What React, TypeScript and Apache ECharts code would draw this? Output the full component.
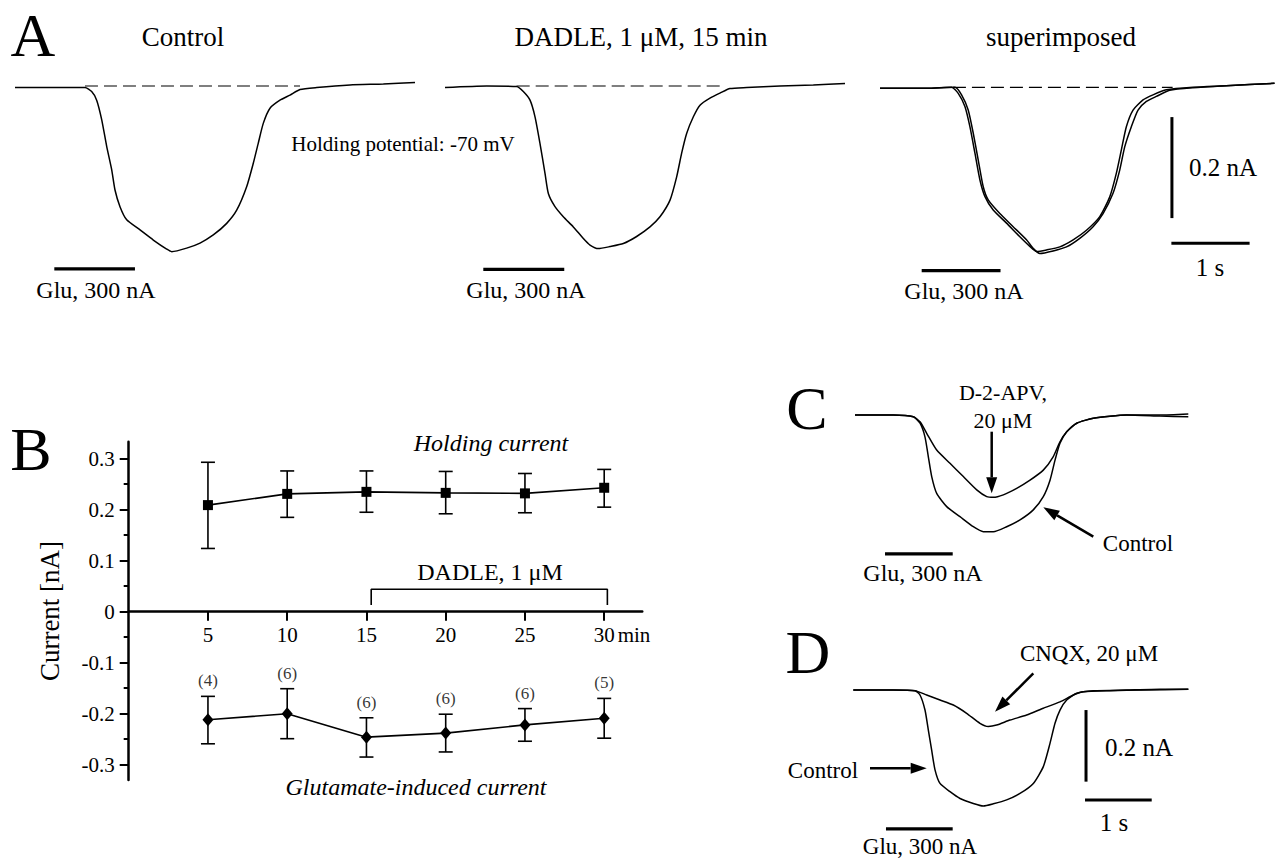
import React, { useEffect, useRef } from "react";
import * as echarts from "echarts";

// ---------- Panel B data ----------
const timeMin = [5, 10, 15, 20, 25, 30];
const holdingMean = [0.209, 0.231, 0.235, 0.233, 0.232, 0.243];
const holdingUpper = [0.293, 0.276, 0.276, 0.275, 0.271, 0.279];
const holdingLower = [0.124, 0.185, 0.195, 0.192, 0.194, 0.205];
const gluMean = [-0.212, -0.2, -0.246, -0.238, -0.222, -0.209];
const gluUpper = [-0.166, -0.151, -0.208, -0.201, -0.19, -0.17];
const gluLower = [-0.259, -0.249, -0.285, -0.275, -0.254, -0.248];
const nCells = ["(4)", "(6)", "(6)", "(6)", "(6)", "(5)"];
const yTicks = [-0.3, -0.2, -0.1, 0, 0.1, 0.2, 0.3];
const yMinorTicks = [-0.25, -0.15, -0.05, 0.05, 0.15, 0.25];
const xTicks = [5, 10, 15, 20, 25, 30];
const dadleStartMin = 15.3;
const dadleEndMin = 30.2;
const dadleBracketTop = 0.044;
const dadleBracketFoot = 0.013;

// ---------- Panel A traces: [time (s), current (nA)] ----------
const traceAControl: [number, number][] = [
  [0, -0.003], [0.535, -0.003], [0.897, -0.003], [0.983, -0.011], [1.047, -0.028],
  [1.112, -0.067], [1.176, -0.12], [1.24, -0.166], [1.282, -0.206], [1.346, -0.239],
  [1.432, -0.265], [1.603, -0.285], [1.773, -0.305], [1.945, -0.323], [2.009, -0.328],
  [2.201, -0.321], [2.372, -0.311], [2.542, -0.295], [2.714, -0.272], [2.842, -0.246],
  [2.971, -0.199], [3.055, -0.153], [3.119, -0.113], [3.183, -0.074], [3.269, -0.044],
  [3.397, -0.028], [3.526, -0.018], [3.654, -0.007], [3.868, -0.003], [4.295, 0.002],
  [4.722, 0.004], [5.128, 0.007],
];
const traceADadle: [number, number][] = [
  [0, -0.003], [0.535, 0], [0.919, -0.001], [1.004, -0.011], [1.09, -0.028],
  [1.154, -0.061], [1.218, -0.114], [1.282, -0.173], [1.325, -0.213], [1.41, -0.239],
  [1.517, -0.259], [1.645, -0.279], [1.774, -0.302], [1.859, -0.315], [1.966, -0.322],
  [2.115, -0.318], [2.286, -0.312], [2.457, -0.298], [2.628, -0.279], [2.756, -0.259],
  [2.885, -0.226], [2.97, -0.18], [3.034, -0.133], [3.098, -0.094], [3.184, -0.061],
  [3.269, -0.038], [3.397, -0.024], [3.526, -0.014], [3.654, -0.005], [3.868, -0.003],
  [4.295, 0], [4.722, 0.002], [5.128, 0.005],
];
const traceASuperA: [number, number][] = [
  [0, -0.002], [0.598, -0.002], [0.919, 0], [1.004, -0.012], [1.09, -0.038],
  [1.154, -0.078], [1.218, -0.13], [1.282, -0.183], [1.346, -0.216], [1.453, -0.243],
  [1.624, -0.269], [1.795, -0.296], [1.923, -0.315], [2.009, -0.325], [2.137, -0.322],
  [2.308, -0.316], [2.479, -0.302], [2.65, -0.283], [2.821, -0.256], [2.949, -0.217],
  [3.034, -0.17], [3.098, -0.124], [3.162, -0.078], [3.248, -0.045], [3.376, -0.025],
  [3.504, -0.015], [3.675, -0.005], [4.017, 0], [4.444, 0.003], [5.064, 0.008],
];
const traceASuperB: [number, number][] = [
  [0, -0.002], [0.598, -0.002], [0.962, 0], [1.047, -0.015], [1.132, -0.045],
  [1.197, -0.091], [1.261, -0.144], [1.325, -0.197], [1.389, -0.223], [1.538, -0.25],
  [1.709, -0.276], [1.88, -0.302], [1.966, -0.319], [2.051, -0.329], [2.222, -0.324],
  [2.393, -0.316], [2.564, -0.299], [2.735, -0.276], [2.863, -0.25], [2.991, -0.21],
  [3.077, -0.164], [3.141, -0.118], [3.226, -0.078], [3.312, -0.045], [3.419, -0.028],
  [3.547, -0.018], [3.718, -0.006], [4.017, -0.001], [4.444, 0.003], [5.064, 0.008],
];
// baseline (dashed) spans [start s, end s]
const baseA1 = [0.897, 3.654];
const baseA2 = [0.919, 3.564];
const baseA3 = [0.936, 3.756];
// glutamate application bars [start s, end s, level nA]
const gluA1 = [0.504, 1.538, -0.362];
const gluA2 = [0.491, 1.529, -0.363];
const gluA3 = [0.535, 1.547, -0.363];
// scale bars A: vertical [t, I1, I2], horizontal [t1, t2, I]
const scaleAVert = [3.747, -0.059, -0.259];
const scaleAHorz = [3.74, 4.744, -0.309];

// ---------- Panel C traces ----------
const traceCApv: [number, number][] = [
  [0, 0], [0.575, 0], [0.875, -0.005], [0.975, -0.019], [1.075, -0.051], [1.225, -0.098],
  [1.424, -0.135], [1.624, -0.172], [1.825, -0.209], [1.975, -0.228], [2.074, -0.23],
  [2.224, -0.223], [2.424, -0.205], [2.624, -0.182], [2.823, -0.154], [2.973, -0.116],
  [3.073, -0.075], [3.174, -0.047], [3.324, -0.023], [3.573, -0.009], [4.073, 0],
  [4.573, 0], [4.997, 0.003],
];
const traceCControl: [number, number][] = [
  [0, 0], [0.575, 0], [0.875, -0.005], [0.975, -0.023], [1.049, -0.061], [1.099, -0.116],
  [1.15, -0.172], [1.225, -0.219], [1.375, -0.256], [1.574, -0.284], [1.774, -0.312],
  [1.924, -0.326], [2.074, -0.326], [2.274, -0.312], [2.474, -0.293], [2.673, -0.265],
  [2.823, -0.228], [2.924, -0.182], [2.999, -0.126], [3.073, -0.079], [3.174, -0.047],
  [3.324, -0.023], [3.573, -0.009], [4.073, 0], [4.573, -0.003], [4.997, -0.005],
];
const gluC = [0.45, 1.465, -0.388];

// ---------- Panel D traces ----------
const traceDControl: [number, number][] = [
  [0, 0], [0.6, 0], [0.925, -0.002], [1.0, -0.014], [1.075, -0.056], [1.125, -0.112],
  [1.175, -0.168], [1.225, -0.223], [1.3, -0.261], [1.45, -0.284], [1.6, -0.303],
  [1.799, -0.317], [1.949, -0.324], [2.099, -0.318], [2.299, -0.307], [2.499, -0.289],
  [2.699, -0.261], [2.849, -0.214], [2.949, -0.149], [3.024, -0.093], [3.099, -0.056],
  [3.199, -0.028], [3.349, -0.009], [3.598, -0.002], [4.098, 0], [4.598, 0.002], [5.023, 0.002],
];
const traceDCnqx: [number, number][] = [
  [0, 0], [0.6, 0], [0.925, -0.002], [1.1, -0.014], [1.3, -0.028], [1.5, -0.042],
  [1.699, -0.065], [1.899, -0.093], [2.024, -0.102], [2.149, -0.098], [2.349, -0.084],
  [2.599, -0.07], [2.849, -0.051], [3.099, -0.033], [3.299, -0.014], [3.449, -0.005],
  [3.848, -0.002], [4.348, 0], [5.023, 0.002],
];
const gluD = [0.49, 1.49, -0.388];
const scaleDVert = [3.489, -0.056, -0.256];
const scaleDHorz = [3.474, 4.474, -0.307];

// ---------- layout ----------
const FONT = "Liberation Serif, Times New Roman, Times, serif";
const B_LEFT = 128.7;
const B_ZERO_Y = 611.7;
const B_PX_PER_TENTH = 510; // px per 1 nA / 10 -> 51 px per 0.1 nA
const B_PX_PER_MIN = 15.85;
const B_XMAX = 32.4;
const B_YMAX = 0.333;
const B_YMIN = -0.33;

type TraceBox = { left: number; baseY: number; pxS: number; pxA: number; tMax: number };
const traceBoxes: TraceBox[] = [
  { left: 15, baseY: 86, pxS: 78, pxA: 505, tMax: 5.13 },
  { left: 445, baseY: 86, pxS: 78, pxA: 505, tMax: 5.13 },
  { left: 880, baseY: 87.3, pxS: 78, pxA: 505, tMax: 5.07 },
  { left: 855, baseY: 415, pxS: 66.7, pxA: 358, tMax: 5.0 },
  { left: 853.3, baseY: 690, pxS: 66.7, pxA: 358, tMax: 5.03 },
];
const T_YMAX = 0.1;
const T_YMIN = -0.45;

function arrow(x1: number, y1: number, x2: number, y2: number) {
  const dx = x2 - x1;
  const dy = y2 - y1;
  const len = Math.sqrt(dx * dx + dy * dy);
  const ux = dx / len;
  const uy = dy / len;
  const hl = 16;
  const hw = 5.5;
  const bx = x2 - ux * hl;
  const by = y2 - uy * hl;
  return [
    { type: "line", shape: { x1, y1, x2: bx, y2: by }, style: { stroke: "#000", lineWidth: 2.5 } },
    {
      type: "polygon",
      shape: { points: [[x2, y2], [bx - uy * hw, by + ux * hw], [bx + uy * hw, by - ux * hw]] },
      style: { fill: "#000" },
    },
  ];
}

function txt(text: string, x: number, y: number, size: number, extra: any = {}) {
  return {
    type: "text",
    x,
    y,
    rotation: extra.rotation || 0,
    style: {
      text,
      fill: "#000",
      fontSize: size,
      fontFamily: FONT,
      fontStyle: extra.italic ? "italic" : "normal",
      align: "center",
      verticalAlign: "middle",
    },
  };
}

function buildOption() {
  const grids: any[] = [];
  const xAxes: any[] = [];
  const yAxes: any[] = [];
  const series: any[] = [];

  // Panel B grid (index 0)
  grids.push({
    left: B_LEFT,
    top: B_ZERO_Y - B_YMAX * B_PX_PER_TENTH,
    width: B_XMAX * B_PX_PER_MIN,
    height: (B_YMAX - B_YMIN) * B_PX_PER_TENTH,
  });
  xAxes.push({
    gridIndex: 0,
    type: "value",
    position: "bottom",
    min: 0,
    max: B_XMAX,
    offset: B_YMIN * B_PX_PER_TENTH,
    axisLine: { show: true, onZero: false, lineStyle: { color: "#000", width: 2.5 } },
    axisTick: { show: true, customValues: xTicks, length: 9, lineStyle: { color: "#000", width: 2 } },
    axisLabel: {
      show: true,
      customValues: xTicks,
      margin: 13,
      color: "#000",
      fontSize: 21,
      fontFamily: FONT,
    },
    splitLine: { show: false },
  });
  yAxes.push({
    gridIndex: 0,
    type: "value",
    min: B_YMIN,
    max: B_YMAX,
    axisLine: { show: true, lineStyle: { color: "#000", width: 2.5 } },
    axisTick: { show: true, customValues: yTicks, length: 9, lineStyle: { color: "#000", width: 2 } },
    axisLabel: {
      show: true,
      customValues: yTicks,
      margin: 14,
      color: "#000",
      fontSize: 21,
      fontFamily: FONT,
      formatter: (v: number) => (Math.abs(v) < 1e-9 ? "0" : v.toFixed(1)),
    },
    splitLine: { show: false },
  });
  yAxes.push({
    gridIndex: 0,
    type: "value",
    min: B_YMIN,
    max: B_YMAX,
    position: "left",
    axisLine: { show: false },
    axisTick: { show: true, customValues: yMinorTicks, length: 5, lineStyle: { color: "#000", width: 2 } },
    axisLabel: { show: false },
    splitLine: { show: false },
  });

  // trace grids 1..5 -> xAxis 1..5, yAxis 2..6
  traceBoxes.forEach((b, i) => {
    grids.push({
      left: b.left,
      top: b.baseY - T_YMAX * b.pxA,
      width: b.tMax * b.pxS,
      height: (T_YMAX - T_YMIN) * b.pxA,
    });
    xAxes.push({ gridIndex: i + 1, type: "value", min: 0, max: b.tMax, show: false });
    yAxes.push({ gridIndex: i + 1, type: "value", min: T_YMIN, max: T_YMAX, show: false });
  });

  const lineS = (gi: number, data: any[], style: any = {}, extra: any = {}) => ({
    type: "line",
    xAxisIndex: gi,
    yAxisIndex: gi === 0 ? 0 : gi + 1,
    data,
    showSymbol: false,
    symbol: "none",
    silent: true,
    clip: false,
    lineStyle: { color: "#000", width: 1.5, ...style },
    z: 3,
    ...extra,
  });

  // Panel B: error bars
  const errBars = (lo: number[], hi: number[]) => ({
    type: "custom",
    xAxisIndex: 0,
    yAxisIndex: 0,
    silent: true,
    clip: false,
    z: 2,
    data: timeMin.map((t, i) => [t, lo[i], hi[i]]),
    encode: { x: 0, y: [1, 2] },
    renderItem: (_p: any, api: any) => {
      const x = api.value(0);
      const a = api.coord([x, api.value(1)]);
      const b = api.coord([x, api.value(2)]);
      const h = 7;
      const st = { stroke: "#000", lineWidth: 1.6 };
      return {
        type: "group",
        children: [
          { type: "line", shape: { x1: a[0], y1: a[1], x2: b[0], y2: b[1] }, style: st },
          { type: "line", shape: { x1: a[0] - h, y1: a[1], x2: a[0] + h, y2: a[1] }, style: st },
          { type: "line", shape: { x1: b[0] - h, y1: b[1], x2: b[0] + h, y2: b[1] }, style: st },
        ],
      };
    },
  });
  series.push(errBars(holdingLower, holdingUpper));
  series.push(errBars(gluLower, gluUpper));
  series.push({
    type: "line",
    xAxisIndex: 0,
    yAxisIndex: 0,
    data: timeMin.map((t, i) => [t, holdingMean[i]]),
    symbol: "rect",
    symbolSize: 10,
    itemStyle: { color: "#000" },
    lineStyle: { color: "#000", width: 1.6 },
    silent: true,
    z: 4,
  });
  series.push({
    type: "line",
    xAxisIndex: 0,
    yAxisIndex: 0,
    data: timeMin.map((t, i) => [t, gluMean[i]]),
    symbol: "diamond",
    symbolSize: [11, 13],
    itemStyle: { color: "#000" },
    lineStyle: { color: "#000", width: 1.6 },
    silent: true,
    z: 4,
  });
  series.push({
    type: "scatter",
    xAxisIndex: 0,
    yAxisIndex: 0,
    data: timeMin.map((t, i) => [t, gluUpper[i]]),
    symbolSize: 0,
    silent: true,
    label: {
      show: true,
      position: "top",
      distance: 7,
      color: "#000",
      fontSize: 17,
      fontFamily: FONT,
      formatter: (p: any) => nCells[p.dataIndex],
    },
  });
  // DADLE bracket
  series.push(
    lineS(
      0,
      [
        [dadleStartMin, dadleBracketFoot],
        [dadleStartMin, dadleBracketTop],
        [dadleEndMin, dadleBracketTop],
        [dadleEndMin, dadleBracketFoot],
      ],
      { width: 1.6 }
    )
  );

  // Panel A traces
  series.push(lineS(1, traceAControl, {}, { smooth: 0.2 }));
  series.push(lineS(2, traceADadle, {}, { smooth: 0.2 }));
  series.push(lineS(3, traceASuperA, {}, { smooth: 0.2 }));
  series.push(lineS(3, traceASuperB, {}, { smooth: 0.2 }));
  [baseA1, baseA2, baseA3].forEach((b, i) =>
    series.push(lineS(i + 1, [[b[0], 0], [b[1], 0]], { width: 1.2, type: [13, 6] }))
  );
  [gluA1, gluA2, gluA3].forEach((g, i) =>
    series.push(lineS(i + 1, [[g[0], g[2]], [g[1], g[2]]], { width: 3.2 }))
  );
  series.push(lineS(3, [[scaleAVert[0], scaleAVert[1]], [scaleAVert[0], scaleAVert[2]]], { width: 3 }));
  series.push(lineS(3, [[scaleAHorz[0], scaleAHorz[2]], [scaleAHorz[1], scaleAHorz[2]]], { width: 3 }));

  // Panel C
  series.push(lineS(4, traceCApv, {}, { smooth: 0.2 }));
  series.push(lineS(4, traceCControl, {}, { smooth: 0.2 }));
  series.push(lineS(4, [[gluC[0], gluC[2]], [gluC[1], gluC[2]]], { width: 3.2 }));

  // Panel D
  series.push(lineS(5, traceDControl, {}, { smooth: 0.2 }));
  series.push(lineS(5, traceDCnqx, {}, { smooth: 0.2 }));
  series.push(lineS(5, [[gluD[0], gluD[2]], [gluD[1], gluD[2]]], { width: 3.2 }));
  series.push(lineS(5, [[scaleDVert[0], scaleDVert[1]], [scaleDVert[0], scaleDVert[2]]], { width: 3 }));
  series.push(lineS(5, [[scaleDHorz[0], scaleDHorz[2]], [scaleDHorz[1], scaleDHorz[2]]], { width: 3 }));

  const graphics: any[] = [
    // Panel letters
    txt("A", 33, 35, 62),
    txt("B", 31, 449, 62),
    txt("C", 807, 408, 62),
    txt("D", 808, 652, 62),
    // Panel A texts
    txt("Control", 183, 37, 27),
    txt("DADLE, 1 μM, 15 min", 641, 37, 27),
    txt("superimposed", 1061, 37, 27),
    txt("Holding potential: -70 mV", 403, 144, 21),
    txt("Glu, 300 nA", 96, 290, 24),
    txt("Glu, 300 nA", 526, 290, 24),
    txt("Glu, 300 nA", 964, 291, 24),
    txt("0.2 nA", 1223, 167, 25),
    txt("1 s", 1210, 267, 25),
    // Panel B texts
    txt("Holding current", 491, 443, 24, { italic: true }),
    txt("DADLE, 1 μM", 490, 572, 24),
    txt("Glutamate-induced current", 416, 787, 24, { italic: true }),
    txt("min", 634, 635, 21),
    txt("Current [nA]", 50, 611, 27, { rotation: Math.PI / 2 }),
    // Panel C texts
    txt("D-2-APV,", 1003, 392, 22),
    txt("20 μM", 1003, 420, 22),
    txt("Control", 1138, 543, 23),
    txt("Glu, 300 nA", 923, 573, 24),
    // Panel D texts
    txt("CNQX, 20 μM", 1089, 653, 23),
    txt("Control", 823, 770, 23),
    txt("0.2 nA", 1139, 747, 25),
    txt("1 s", 1114, 822, 25),
    txt("Glu, 300 nA", 920, 846, 23),
    // arrows
    ...arrow(991.7, 431.7, 991.7, 493.3),
    ...arrow(1093.3, 536.7, 1043.3, 507.3),
    ...arrow(1033.3, 673.3, 995, 711.7),
    ...arrow(870, 768.3, 926.7, 768.3),
  ];

  return {
    animation: false,
    backgroundColor: "#fff",
    grid: grids,
    xAxis: xAxes,
    yAxis: yAxes,
    series,
    graphic: graphics,
  };
}

export default function App() {
  const ref = useRef<HTMLDivElement>(null);
  useEffect(() => {
    if (!ref.current) return;
    const chart = echarts.init(ref.current, undefined, { renderer: "svg" });
    chart.setOption(buildOption() as any);
    return () => chart.dispose();
  }, []);
  return (
    <div
      ref={ref}
      style={{ position: "fixed", left: 0, top: 0, width: 1275, height: 859, background: "#fff" }}
    />
  );
}
